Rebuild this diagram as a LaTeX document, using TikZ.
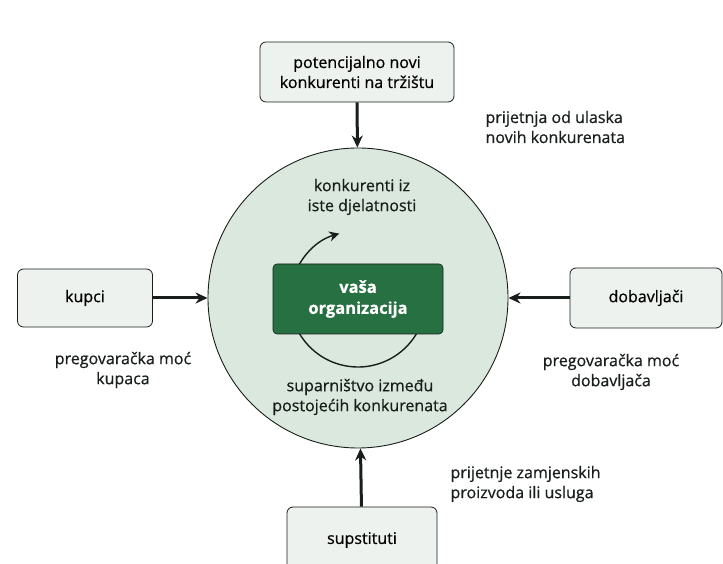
\documentclass[tikz,border=0pt]{standalone}
\usepackage{fontspec}
\setmainfont{Open Sans}[FakeBold=0.6]
\usetikzlibrary{arrows.meta}
\definecolor{ringfill}{RGB}{218,232,222}
\definecolor{boxfill}{RGB}{238,242,238}
\definecolor{orgfill}{RGB}{38,112,66}
\definecolor{inkline}{RGB}{24,30,26}
\tikzset{
  force/.style={draw=inkline, line width=0.8pt, fill=boxfill, rounded corners=6pt,
    align=center, font=\fontsize{16}{20}\selectfont},
  caption/.style={align=center, font=\fontsize{16}{20}\selectfont, text=inkline},
  push/.style={-{Stealth[length=12pt,width=11pt]}, line width=3pt, draw=inkline},
}
\begin{document}
\begin{tikzpicture}[x=1pt,y=1pt]
  \useasboundingbox (0,0) rectangle (723,564);
  \clip (0,0) rectangle (723,564);
  % the industry
  \node[circle, draw=inkline, line width=0.9pt, fill=ringfill, minimum size=300pt] (ring) at (358,266) {};
  \draw[inkline, line width=1.4pt, -{Stealth[length=10pt,width=10pt]}]
    (358,265) ++(350:68) arc[start angle=350, end angle=106, radius=68];
  \node[fill=orgfill, draw=inkline, line width=0.6pt, rounded corners=4pt,
    minimum width=170pt, minimum height=70pt, align=center, text=white,
    font=\fontsize{16.5}{21}\selectfont\bfseries] (org) at (358,265) {vaša\\organizacija};
  \node[caption] (rivals) at (362,367) {konkurenti iz\\iste djelatnosti};
  \node[caption] (rivalry) at (360,167) {suparništvo između\\postojećih konkurenata};
  % the four forces
  \node[force, minimum width=194pt, minimum height=60pt] (entrants) at (357,492) {potencijalno novi\\konkurenti na tržištu};
  \node[force, minimum width=135pt, minimum height=58pt] (buyers) at (85,266) {kupci};
  \node[force, minimum width=152pt, minimum height=60pt] (suppliers) at (646,266) {dobavljači};
  \node[force, minimum width=150pt, minimum height=66pt] (subst) at (362,24) {supstituti};
  \draw[push] (entrants) -- (ring);
  \draw[push] (buyers) -- (ring);
  \draw[push] (suppliers) -- (ring);
  \draw[push] (subst) -- (ring);
  \node[caption, anchor=west, align=left] (threatnew) at (482,437) {prijetnja od ulaska\\novih konkurenata};
  \node[caption] (powbuy) at (123,194) {pregovaračka moć\\kupaca};
  \node[caption] (powsup) at (611,192) {pregovaračka moć\\dobavljača};
  \node[caption, anchor=west, align=left] (threatsub) at (447,80) {prijetnje zamjenskih\\proizvoda ili usluga};
\end{tikzpicture}
\end{document}
